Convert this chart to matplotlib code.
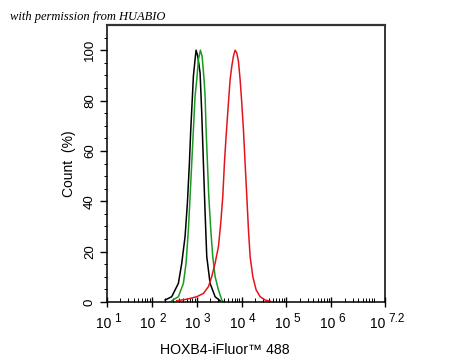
import numpy as np
import matplotlib
matplotlib.use("Agg")
import matplotlib.pyplot as plt
from matplotlib.ticker import FixedLocator, NullFormatter

plt.rcParams['font.family'] = ['Liberation Sans', 'DejaVu Sans']

# log10 of fluorescence intensity and count (%)
black_log = [2.295, 2.443, 2.592, 2.667, 2.741, 2.793, 2.838, 2.868, 2.905, 2.927, 2.964,
             2.987, 3.024, 3.076, 3.113, 3.150, 3.188, 3.225, 3.299, 3.411, 3.522]
black_val = [0.8, 2.1, 7.4, 15.4, 26.0, 39.3, 55.2, 68.4, 81.7, 89.7, 96.3,
             100.0, 97.6, 91.0, 75.0, 55.2, 35.3, 18.0, 7.4, 2.1, 0.5]

green_log = [2.443, 2.592, 2.704, 2.763, 2.815, 2.853, 2.890, 2.927, 2.964, 3.002, 3.039,
             3.083, 3.121, 3.165, 3.188, 3.210, 3.240, 3.270, 3.315, 3.359, 3.411,
             3.485, 3.560, 3.597]
green_val = [0.5, 2.1, 7.4, 15.4, 28.6, 41.9, 55.2, 68.4, 81.7, 88.3, 96.3,
             100.0, 97.6, 88.3, 81.7, 68.4, 55.2, 41.9, 28.6, 18.0, 10.1,
             4.8, 0.8, 0.1]

red_log = [2.555, 2.778, 3.002, 3.150, 3.262, 3.336, 3.411, 3.485, 3.537, 3.582, 3.619,
           3.656, 3.708, 3.746, 3.783, 3.820, 3.857, 3.894, 3.932, 3.969, 4.006,
           4.043, 4.080, 4.118, 4.155, 4.192, 4.252, 4.326, 4.415, 4.527, 4.638]
red_val = [0.5, 1.1, 2.1, 3.4, 6.1, 10.1, 15.4, 22.0, 31.3, 41.9, 55.2,
           65.8, 79.0, 88.3, 93.6, 97.6, 100.0, 98.9, 95.5, 88.3, 79.0,
           68.4, 55.2, 41.9, 28.6, 18.0, 10.1, 4.8, 2.1, 0.8, 0.3]

x_exps = ['1', '2', '3', '4', '5', '6', '7.2']
y_ticks = [0, 20, 40, 60, 80, 100]

fig = plt.figure(figsize=(4.5, 3.6), dpi=100)
ax = fig.add_axes([107 / 450, 58 / 360, 278 / 450, 277 / 360])

ax.plot(10 ** np.array(black_log), black_val, color='black', lw=1.1)
ax.plot(10 ** np.array(green_log), green_val, color='#1a9a22', lw=1.1)
ax.plot(10 ** np.array(red_log), red_val, color='#e3151c', lw=1.1)

ax.set_xscale('log')
ax.set_xlim(10, 10 ** 7.2)
ax.set_ylim(0, 110)

xt = [10 ** float(e) for e in x_exps]
ax.set_xticks(xt)
ax.set_xticklabels([])
minor = [m * 10 ** d for d in range(1, 7) for m in range(2, 10)]
ax.xaxis.set_minor_locator(FixedLocator(minor))
ax.xaxis.set_minor_formatter(NullFormatter())
ax.tick_params(axis='x', which='major', direction='inout', length=7, width=1)
ax.tick_params(axis='x', which='minor', direction='in', length=3, width=0.7)

# tick labels "10" + raised exponent, drawn as two texts centred on the tick
for xv, e in zip(xt, x_exps):
    total = 22.0 if len(e) > 1 else 16.5   # label width in points
    ax.annotate('10', xy=(xv, 0), xycoords=('data', 'axes fraction'),
                xytext=(-total / 2, -16), textcoords='offset points',
                ha='left', va='center', fontsize=10)
    ax.annotate(e, xy=(xv, 0), xycoords=('data', 'axes fraction'),
                xytext=(-total / 2 + 13.5, -12.3), textcoords='offset points',
                ha='left', va='center', fontsize=8.5)

ax.set_yticks(y_ticks)
ax.set_yticklabels([str(v) for v in y_ticks], rotation=90, va='center', fontsize=9.5)
ax.yaxis.set_minor_locator(FixedLocator(np.arange(0, 106, 5)))
ax.tick_params(axis='y', which='major', direction='out', length=5, width=1, pad=3)
ax.tick_params(axis='y', which='minor', direction='out', length=2.5, width=0.7)

for s in ax.spines.values():
    s.set_linewidth(1.1)
ax.spines['top'].set_color('#333333')
ax.spines['top'].set_linewidth(1.6)

ax.set_ylabel('Count  (%)', fontsize=10, labelpad=6)
fig.text(225 / 450, 1 - 350 / 360, 'HOXB4-iFluor™ 488', fontsize=10.2,
         ha='center', va='center')

fig.text(10 / 450, 1 - 17 / 360, 'with permission from HUABIO', family='Liberation Serif',
         style='italic', fontsize=9, va='center', ha='left')

fig.savefig('out.png', dpi=100, facecolor='white')
